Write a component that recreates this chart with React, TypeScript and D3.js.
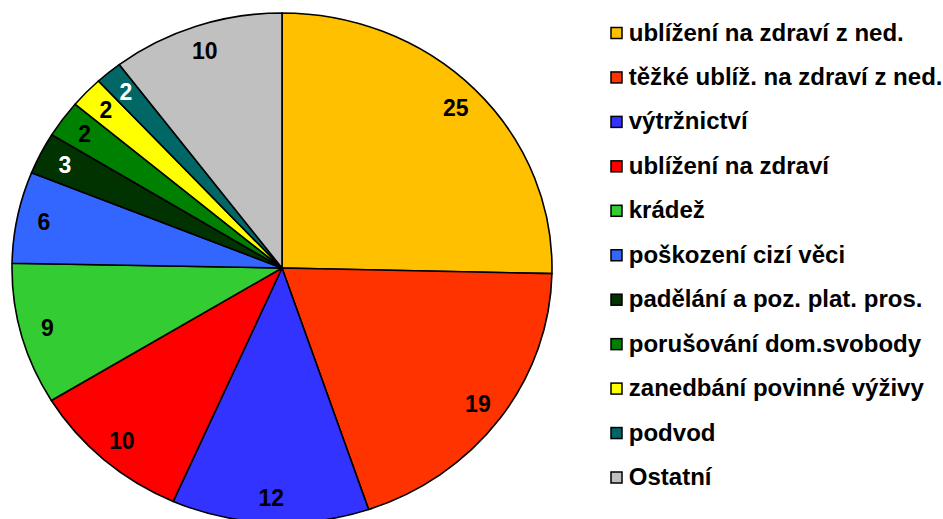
import React from 'react'
import * as d3 from 'd3'

const WIDTH = 943
const HEIGHT = 519

// values (labels show them rounded)
const categories = [
  'ublížení na zdraví z ned.',
  'těžké ublíž. na zdraví z ned.',
  'výtržnictví',
  'ublížení na zdraví',
  'krádež',
  'poškození cizí věci',
  'padělání a poz. plat. pros.',
  'porušování dom.svobody',
  'zanedbání povinné výživy',
  'podvod',
  'Ostatní',
]
const values = [25.35, 19.45, 11.8, 9.7, 9.0, 5.8, 2.65, 2.35, 2.0, 1.6, 10.3]
const colors = [
  '#FFC000', '#FF3300', '#3333FF', '#FF0000', '#33CC33', '#3366FF',
  '#003300', '#008000', '#FFFF00', '#006666', '#C0C0C0',
]
const labelColors = [
  '#000', '#000', '#000', '#000', '#000', '#000',
  '#fff', '#000', '#000', '#fff', '#000',
]

const CX = 282
const CY = 268
const RX = 270
const RY = 255
const FONT = '"Liberation Sans", Arial, sans-serif'

export default function App() {
  const pie = d3.pie<number>().sort(null).value((d) => d)
  const arcs = pie(values)
  const arc = d3.arc<d3.PieArcDatum<number>>().innerRadius(0).outerRadius(RX)
  const labelArc = d3.arc<d3.PieArcDatum<number>>()
    .innerRadius(RX * 0.9)
    .outerRadius(RX * 0.9)
  // the original is squashed a bit vertically
  const sy = RY / RX

  const legendY = d3.scaleLinear().domain([0, categories.length - 1]).range([33, 477.5])

  return (
    <svg
      width={WIDTH}
      height={HEIGHT}
      style={{ position: 'absolute', left: 0, top: 0, background: '#fff' }}
      fontFamily={FONT}
      fontWeight="bold"
    >
      <g transform={`translate(${CX},${CY}) scale(1,${sy})`}>
        {arcs.map((a, i) => (
          <path
            key={i}
            d={arc(a) || ''}
            fill={colors[i]}
            stroke="#000"
            strokeWidth={1.6}
            vectorEffect="non-scaling-stroke"
            strokeLinejoin="round"
          />
        ))}
      </g>
      <g transform={`translate(${CX},${CY})`}>
        {arcs.map((a, i) => {
          const [x, y] = labelArc.centroid(a)
          return (
            <text
              key={i}
              x={x}
              y={y * sy}
              dy="0.36em"
              textAnchor="middle"
              fontSize={23}
              fill={labelColors[i]}
            >
              {Math.round(values[i])}
            </text>
          )
        })}
      </g>
      <g>
        {categories.map((c, i) => (
          <g key={c} transform={`translate(611,${legendY(i)})`}>
            <rect x={0} y={-5.5} width={11} height={11} fill={colors[i]} stroke="#000" strokeWidth={1.5} />
            <text x={17} y={7.5} fontSize={23} transform="scale(1.045,1)" fill="#000">{c}</text>
          </g>
        ))}
      </g>
    </svg>
  )
}
